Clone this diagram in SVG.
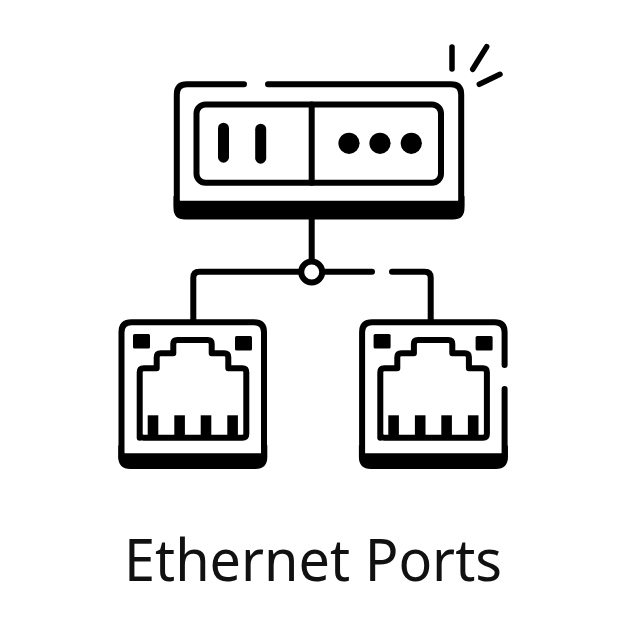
<svg xmlns="http://www.w3.org/2000/svg" width="626" height="626" viewBox="0 0 626 626">
<style>
.s{fill:none;stroke:#000;stroke-width:6;stroke-linecap:round;stroke-linejoin:round}
.t{fill:none;stroke:#000;stroke-width:5.5;stroke-linecap:round}
.f{fill:#000;stroke:none}
.label{font-family:"Noto Sans","Open Sans",sans-serif;font-size:58px;fill:#111}
</style>
<defs>
<g id="jack">
<path class="s" d="M139.700 437.700V372.300Q139.700 368.300 143.700 368.300H156.700V357.300Q156.700 353.300 160.700 353.300H173.300V344Q173.300 340 177.300 340H207.700Q211.700 340 211.700 344V353.300H224.300Q228.300 353.300 228.300 357.300V368.300H242.300Q246.300 368.300 246.300 372.300V433.700Q246.300 437.700 242.300 437.700H143.700Q139.700 437.700 139.700 433.700Z"/>
<rect class="f" x="133" y="334" width="17" height="14.500" rx="1.500"/>
<rect class="f" x="235" y="336" width="17" height="14.500" rx="1.500"/>
<rect class="f" x="147.700" y="415.300" width="10.600" height="22"/>
<rect class="f" x="174.300" y="415.300" width="10.600" height="22"/>
<rect class="f" x="200.700" y="415.300" width="10.600" height="22"/>
<rect class="f" x="227.300" y="415.300" width="10.600" height="22"/>
</g>
</defs>
<rect width="626" height="626" fill="#fff"/>
<g id="connectors">
<path class="s" d="M311.700 216V262"/>
<path class="s" d="M301 271.800H199.300Q193.300 271.800 193.300 277.800V322"/>
<path class="s" d="M322 271.800H372"/>
<path class="s" d="M392 271.800H424.700Q430.700 271.800 430.700 277.800V322"/>
</g>
<g id="switch">
<path class="f" d="M173.500 196V208Q173.500 219.500 185 219.500H453Q464.500 219.500 464.500 208V196L458 200.700H180Z"/>
<path class="s" d="M244 84.300H187Q176.800 84.300 176.800 94.500V206"/>
<path class="s" d="M268 84.300H451Q461.200 84.300 461.200 94.500V206"/>
<rect class="s" x="196.500" y="104.500" width="244.500" height="78.200" rx="9"/>
<path class="s" d="M311.700 104.500V182.700"/>
<rect class="f" x="218" y="122.700" width="11" height="40" rx="5.500"/>
<rect class="f" x="255.200" y="123.700" width="11" height="40" rx="5.500"/>
<circle class="f" cx="349" cy="143.300" r="10.600"/>
<circle class="f" cx="380" cy="143.300" r="10.600"/>
<circle class="f" cx="411.300" cy="143.300" r="10.600"/>
</g>
<g id="sparks">
<path class="t" d="M452 47V69"/>
<path class="t" d="M486.700 46.700L472.700 69.300"/>
<path class="t" d="M500 74.300L479.300 84.300"/>
</g>
<g id="hub">
<circle cx="311.700" cy="272" r="10.500" fill="#fff" stroke="#000" stroke-width="6"/>
</g>
<g id="port-left">
<path class="f" d="M118.300 445V457Q118.300 469 130.300 469H255.300Q267.300 469 267.300 457V445L261 453.300H124.500Z"/>
<path class="s" d="M121.500 458V332.300Q121.500 322.300 131.500 322.300H254Q264 322.300 264 332.300V458"/>
<use href="#jack"/>
</g>
<g id="port-right">
<path class="f" d="M358.900 445V457Q358.900 469 370.900 469H495.900Q507.900 469 507.900 457V445L501.600 453.300H365.100Z"/>
<path class="s" d="M362.100 458V332.300Q362.100 322.300 372.100 322.300H494.600Q504.600 322.300 504.600 332.300V365"/>
<path class="s" d="M504.600 389V458"/>
<use href="#jack" x="240.600"/>
</g>
<text class="label" x="124" y="581" textLength="378" lengthAdjust="spacingAndGlyphs">Ethernet Ports</text>
</svg>
